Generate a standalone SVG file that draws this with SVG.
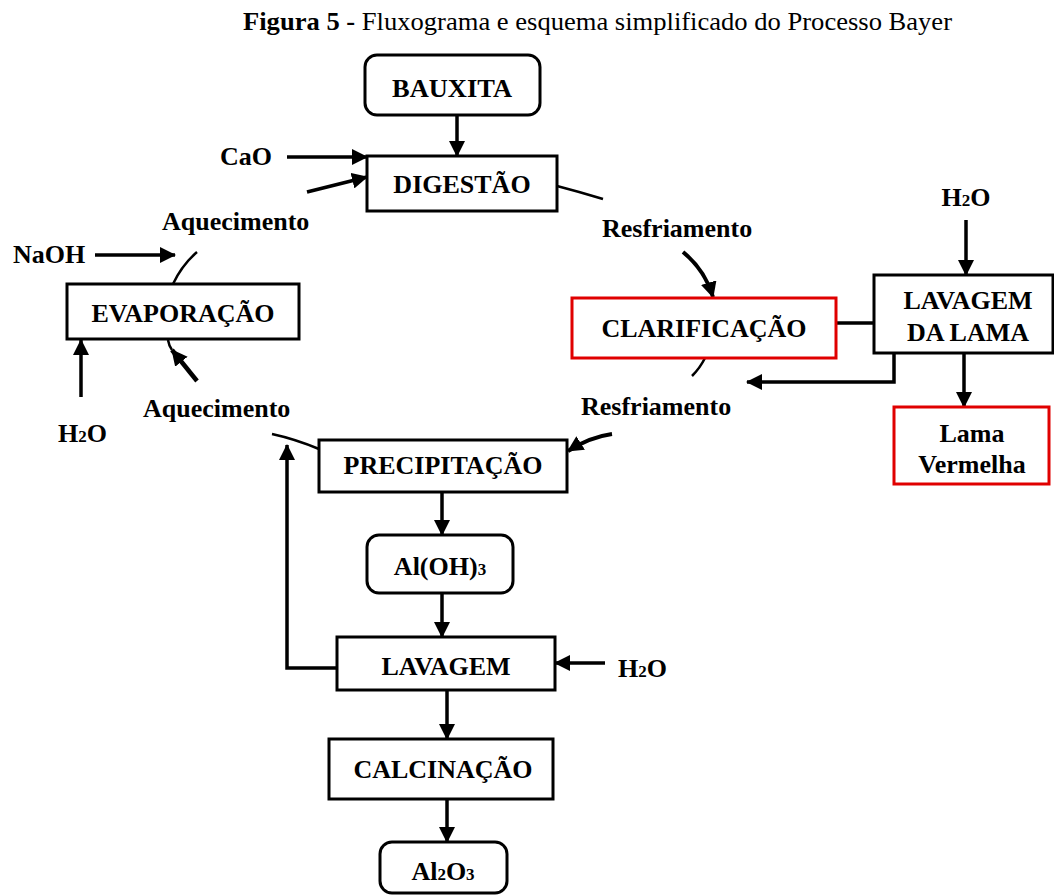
<svg xmlns="http://www.w3.org/2000/svg" width="1054" height="895" viewBox="0 0 1054 895">
<style>
.box{fill:#fff;stroke:#000;stroke-width:3}
.red{fill:#fff;stroke:#e00000;stroke-width:3}
.t{font-family:"Liberation Serif","Times New Roman",serif;font-weight:bold;font-size:26px;fill:#000;text-anchor:middle}
.tl{font-family:"Liberation Serif","Times New Roman",serif;font-weight:bold;font-size:26px;fill:#000}
.a{fill:none;stroke:#000;stroke-width:3.5;marker-end:url(#ah)}
.l{fill:none;stroke:#000;stroke-width:2.5}
.sub{font-size:17px}
</style>
<defs>
<marker id="ah" markerUnits="userSpaceOnUse" markerWidth="17" markerHeight="16" refX="15" refY="8" orient="auto">
<path d="M0,0 L16,8 L0,16 Z" fill="#000"/>
</marker>
</defs>
<rect width="1054" height="895" fill="#fff"/>
<text x="243" y="30" font-family="Liberation Serif,'Times New Roman',serif" font-size="25" textLength="709" lengthAdjust="spacingAndGlyphs"><tspan font-weight="bold">Figura 5 - </tspan>Fluxograma e esquema simplificado do Processo Bayer</text>

<g id="connectors">
<path class="a" d="M457,115 L457,156"/>
<path class="a" d="M287,157 L367,157"/>
<path class="a" d="M307,192 L367,177"/>
<path class="l" d="M557,186 Q580,192 603,199"/>
<path class="a" d="M683,252 Q705,270 713,297" style="stroke-width:4"/>
<path class="l" d="M705,358 Q700,368 692,376"/>
<path class="a" d="M612,434 Q590,437 568,451" style="stroke-width:4"/>
<path class="l" d="M319,449 Q295,439 272,434"/>
<path class="a" d="M197,381 L172,350" style="stroke-width:4.5"/>
<path class="l" d="M172,350 Q169,346 168,340"/>
<path class="l" d="M173,284 Q182,265 197,252"/>
<path class="a" d="M95,255 L175,255"/>
<path class="a" d="M81,397 L81,340"/>
<path class="a" d="M966,220 L966,275"/>
<path class="l" d="M836,323 L874,323" style="stroke-width:3.5"/>
<path class="a" d="M894,353 L894,382 L747,382"/>
<path class="a" d="M964,353 L964,407"/>
<path class="a" d="M442,492 L442,535"/>
<path class="a" d="M442,593 L442,637"/>
<path class="a" d="M337,668 L287,668 L287,445"/>
<path class="a" d="M605,663 L555,663"/>
<path class="a" d="M447,690 L447,739"/>
<path class="a" d="M447,799 L447,842"/>
</g>

<g id="labels">
<text class="tl" x="220" y="165">CaO</text>
<text class="tl" x="162" y="230">Aquecimento</text>
<text class="tl" x="13" y="263">NaOH</text>
<text class="tl" x="58" y="442">H<tspan class="sub">2</tspan>O</text>
<text class="tl" x="143" y="417">Aquecimento</text>
<text class="tl" x="602" y="237">Resfriamento</text>
<text class="tl" x="581" y="415">Resfriamento</text>
<text class="t" x="966" y="206">H<tspan class="sub">2</tspan>O</text>
<text class="tl" x="618" y="677">H<tspan class="sub">2</tspan>O</text>
</g>

<g id="bauxita">
<rect class="box" x="365" y="55" width="175" height="60" rx="12"/>
<text class="t" x="452" y="97" font-size="23" textLength="120" lengthAdjust="spacingAndGlyphs">BAUXITA</text>
</g>
<g id="digestao">
<rect class="box" x="367" y="156" width="190" height="55"/>
<text class="t" x="462" y="193">DIGESTÃO</text>
</g>
<g id="evaporacao">
<rect class="box" x="67" y="284" width="232" height="55"/>
<text class="t" x="183" y="322">EVAPORAÇÃO</text>
</g>
<g id="clarificacao">
<rect class="red" x="572" y="298" width="264" height="60"/>
<text class="t" x="704" y="337">CLARIFICAÇÃO</text>
</g>
<g id="lavagem-lama">
<rect class="box" x="874" y="275" width="179" height="78"/>
<text class="t" x="968" y="309">LAVAGEM</text>
<text class="t" x="968" y="341">DA LAMA</text>
</g>
<g id="lama-vermelha">
<rect class="red" x="894" y="407" width="155" height="77"/>
<text class="t" x="972" y="442">Lama</text>
<text class="t" x="972" y="473">Vermelha</text>
</g>
<g id="precipitacao">
<rect class="box" x="319" y="440" width="248" height="52"/>
<text class="t" x="443" y="474">PRECIPITAÇÃO</text>
</g>
<g id="aloh3">
<rect class="box" x="367" y="535" width="146" height="58" rx="12"/>
<text class="t" x="440" y="575">Al(OH)<tspan class="sub">3</tspan></text>
</g>
<g id="lavagem">
<rect class="box" x="337" y="637" width="218" height="53"/>
<text class="t" x="446" y="675">LAVAGEM</text>
</g>
<g id="calcinacao">
<rect class="box" x="329" y="739" width="224" height="60"/>
<text class="t" x="443" y="778">CALCINAÇÃO</text>
</g>
<g id="al2o3">
<rect class="box" x="380" y="842" width="127" height="51" rx="12"/>
<text class="t" x="443" y="880">Al<tspan class="sub">2</tspan>O<tspan class="sub">3</tspan></text>
</g>
</svg>
